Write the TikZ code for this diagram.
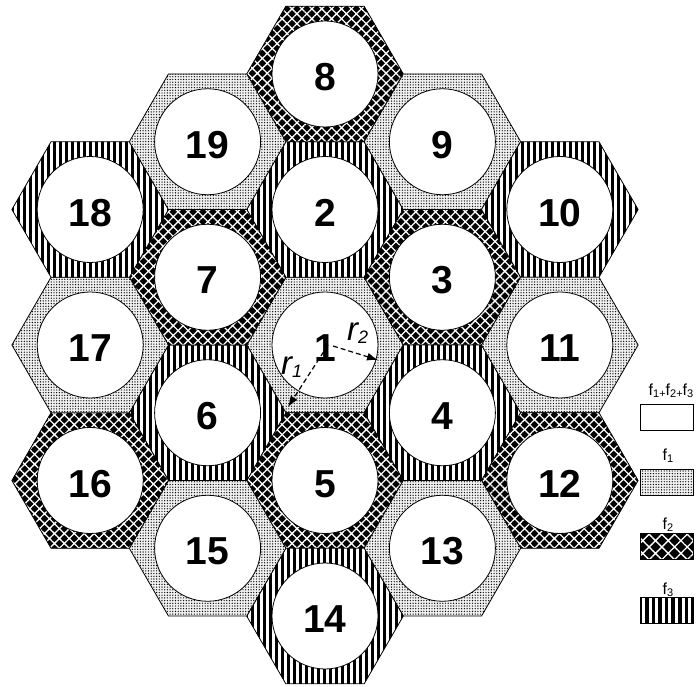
\documentclass[tikz,border=0pt]{standalone}
\usepackage{fontspec}
\setmainfont{Liberation Sans}
\usetikzlibrary{patterns.meta,arrows.meta,shapes.geometric}
\newcommand\fsub[1]{\raisebox{-2.5pt}{\fontsize{11}{11}\selectfont #1}}
\newcommand\rsub[1]{\raisebox{-3.5pt}{\fontsize{18}{18}\selectfont #1}}
\begin{document}
\begin{tikzpicture}[x=1pt,y=-1pt,
  hexbase/.style={regular polygon, regular polygon sides=6, minimum size=156.6pt, inner sep=0pt, outer sep=0pt, draw=black, line width=0.8pt},
  dotfill/.style={preaction={fill=black!6}, pattern={Dots[distance=2.7pt,radius=0.66pt]}, pattern color=black},
  hexf1/.style={hexbase, dotfill},
  hexf2/.style={hexbase, preaction={fill=black}, pattern={Hatch[angle=45,distance=7pt,line width=1.3pt]}, pattern color=white},
  hexf3/.style={hexbase, preaction={fill=white}, pattern={Lines[angle=90,distance=6pt,line width=3pt]}, pattern color=black},
  cell/.style={circle, draw=black, fill=white, line width=0.8pt, minimum size=106pt, inner sep=0pt},
  num/.style={font=\fontsize{39}{39}\selectfont\bfseries, inner sep=0pt, anchor=base},
  rarrow/.style={line width=1.2pt, dash pattern=on 5pt off 3pt, -{Latex[length=11pt,width=8pt]}},
  rlab/.style={font=\fontsize{33}{33}\selectfont\itshape, inner sep=0pt, anchor=base west},
  legbox/.style={rectangle, draw=black, line width=0.8pt, minimum width=53pt, minimum height=26pt, inner sep=0pt},
  leglab/.style={font=\fontsize{16}{16}\selectfont, inner sep=0pt, anchor=base}
]
\useasboundingbox (0,0) rectangle (696,687);
% hexagons
\foreach \n/\x/\y/\s in {1/325/345/f1, 2/325/209.5/f3, 3/442.4/277.25/f2, 4/442.4/412.75/f3,
  5/325/480.5/f2, 6/207.6/412.75/f3, 7/207.6/277.25/f2, 8/325/74/f2, 9/442.4/141.75/f1,
  10/559.8/209.5/f3, 11/559.8/345/f1, 12/559.8/480.5/f2, 13/442.4/548.25/f1,
  14/325/616/f3, 15/207.6/548.25/f1, 16/90.2/480.5/f2, 17/90.2/345/f1,
  18/90.2/209.5/f3, 19/207.6/141.75/f1} {
  \node[hex\s] (h\n) at (\x,\y) {};
}
% circles and numbers
\foreach \n/\x/\y in {1/325/345, 2/325/209.5, 3/442.4/277.25, 4/442.4/412.75,
  5/325/480.5, 6/207.6/412.75, 7/207.6/277.25, 8/325/74, 9/442.4/141.75,
  10/559.8/209.5, 11/559.8/345, 12/559.8/480.5, 13/442.4/548.25,
  14/325/616, 15/207.6/548.25, 16/90.2/480.5, 17/90.2/345,
  18/90.2/209.5, 19/207.6/141.75} {
  \node[cell] (c\n) at (\x,\y) {};
  \node[num] (t\n) at (\x,\y+16.5) {\n};
}
% radii
\coordinate (r1s) at (328,345);
\coordinate (r1e) at (288,407);
\coordinate (r2s) at (333,346);
\coordinate (r2e) at (378,360);
\draw[rarrow] (r1s) -- (r1e);
\draw[rarrow] (r2s) -- (r2e);
\node[rlab] (lr1) at (281,374) {r\rsub{1}};
\node[rlab] (lr2) at (347,340) {r\rsub{2}};
% legend
\node[legbox, fill=white] (l0) at (666.5,417) {};
\node[legbox, dotfill] (l1) at (666.5,482) {};
\node[legbox, preaction={fill=black}, pattern={Hatch[angle=45,distance=9pt,line width=1.3pt]}, pattern color=white] (l2) at (666.5,546.5) {};
\node[legbox, preaction={fill=white}, pattern={Lines[angle=90,distance=6.6pt,line width=3.5pt]}, pattern color=black] (l3) at (666.5,610.5) {};
\node[leglab] (k0) at (671,395) {f\fsub{1+}f\fsub{2+}f\fsub{3}};
\node[leglab] (k1) at (668,460) {f\fsub{1}};
\node[leglab] (k2) at (668,529) {f\fsub{2}};
\node[leglab] (k3) at (668,594) {f\fsub{3}};
\end{tikzpicture}
\end{document}
